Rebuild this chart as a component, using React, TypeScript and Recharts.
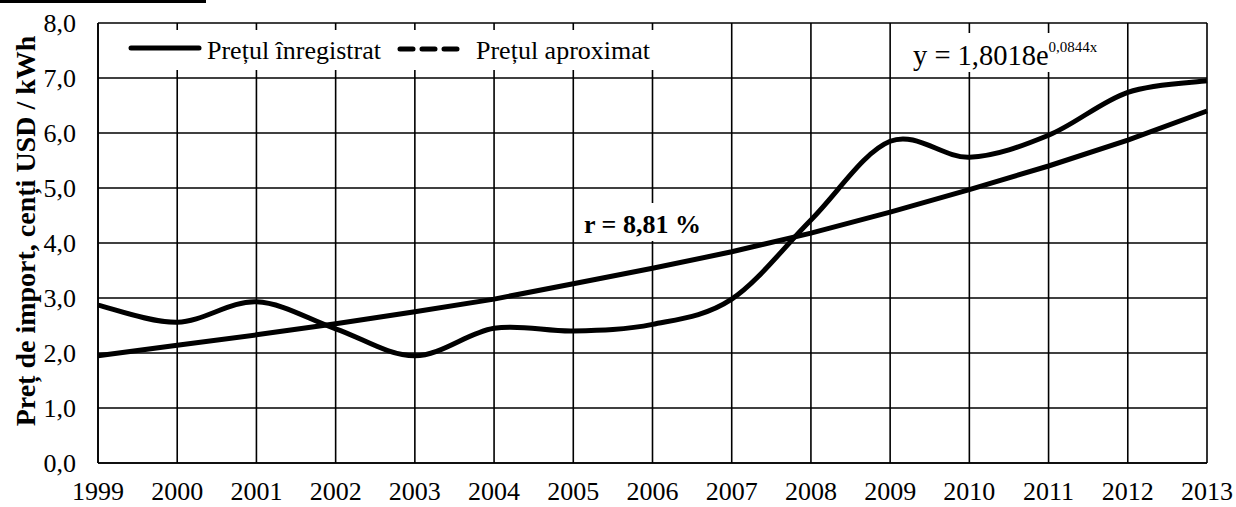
import React from 'react';
import { LineChart, Line, XAxis, YAxis, CartesianGrid } from 'recharts';

// ani si valori
const years = ['1999', '2000', '2001', '2002', '2003', '2004', '2005', '2006', '2007', '2008', '2009', '2010', '2011', '2012', '2013'];
const pretInregistrat = [2.87, 2.56, 2.93, 2.44, 1.95, 2.45, 2.4, 2.52, 2.98, 4.42, 5.85, 5.56, 5.96, 6.74, 6.95];
const pretAproximat = [1.95, 2.14, 2.33, 2.53, 2.75, 2.98, 3.26, 3.54, 3.84, 4.18, 4.56, 4.97, 5.4, 5.87, 6.4];
const yTicks = [0, 1, 2, 3, 4, 5, 6, 7, 8];

const FONT = '"Liberation Serif", "Times New Roman", serif';

const data = years.map((y, i) => ({ year: y, rec: pretInregistrat[i], aprox: pretAproximat[i] }));

// curba netezita gen Excel (Catmull-Rom -> Bezier)
const excelSmooth = (context: any) => {
    let pts: number[][] = [];
    return {
        areaStart() {},
        areaEnd() {},
        lineStart() { pts = []; },
        point(x: number, y: number) { pts.push([+x, +y]); },
        lineEnd() {
            if (!pts.length) return;
            context.moveTo(pts[0][0], pts[0][1]);
            for (let i = 0; i < pts.length - 1; i++) {
                const p0 = pts[i - 1] || pts[i];
                const p1 = pts[i];
                const p2 = pts[i + 1];
                const p3 = pts[i + 2] || pts[i + 1];
                context.bezierCurveTo(
                    p1[0] + (p2[0] - p0[0]) / 6, p1[1] + (p2[1] - p0[1]) / 6,
                    p2[0] - (p3[0] - p1[0]) / 6, p2[1] - (p3[1] - p1[1]) / 6,
                    p2[0], p2[1]
                );
            }
        },
    };
};

const fmt = (v: number) => v.toFixed(1).replace('.', ',');

// eticheta axei Y, aliniata la dreapta la 22px de chenar
const YTick = ({ y, payload }: any) => (
    <text x={76} y={y} dy={9} textAnchor="end" fontSize={26} fontFamily={FONT} fill="#000">
        {fmt(payload.value)}
    </text>
);

export default function App() {
    return (
        <div style={{ position: 'absolute', left: 0, top: 0, width: 1236, height: 507, background: '#fff' }}>
            <LineChart width={1236} height={507} data={data} margin={{ top: 23, right: 29, bottom: 14, left: 0 }}>
                <CartesianGrid stroke="#000" strokeWidth={1.6} />
                <XAxis
                    dataKey="year"
                    interval={0}
                    height={30}
                    axisLine={{ stroke: '#000', strokeWidth: 1.6 }}
                    tickLine={false}
                    tickSize={0}
                    tickMargin={19}
                    tick={{ fontSize: 26, fontFamily: FONT, fill: '#000' }}
                />
                <YAxis
                    domain={[0, 8]}
                    ticks={yTicks}
                    width={98}
                    axisLine={{ stroke: '#000', strokeWidth: 1.6 }}
                    tickLine={false}
                    tickSize={0}
                    tick={<YTick />}
                />
                <Line dataKey="aprox" type="linear" stroke="#000" strokeWidth={5} dot={false} isAnimationActive={false} />
                <Line dataKey="rec" type={excelSmooth as any} stroke="#000" strokeWidth={5} dot={false} isAnimationActive={false} />
            </LineChart>

            {/* adnotari: legenda, ecuatia, r, titlul axei */}
            <svg width={1236} height={507} style={{ position: 'absolute', left: 0, top: 0, pointerEvents: 'none' }} fontFamily={FONT}>
                <rect x={0} y={0} width={206} height={3} fill="#000" />

                <rect x={112} y={30} width={556} height={40} fill="#fff" />
                <line x1={131} y1={48} x2={199} y2={48} stroke="#000" strokeWidth={5} strokeLinecap="round" />
                <text x={207} y={59} fontSize={26} fill="#000">Prețul înregistrat</text>
                <line x1={400} y1={49} x2={457} y2={49} stroke="#000" strokeWidth={5} strokeLinecap="round" strokeDasharray="13 9" />
                <text x={476} y={59} fontSize={26} fill="#000">Prețul aproximat</text>

                <rect x={900} y={33} width={218} height={39} fill="#fff" />
                <text x={913} y={65} fontSize={28.5} fill="#000">
                    y = 1,8018e<tspan fontSize={15} dy={-13}>0,0844x</tspan>
                </text>

                <rect x={576} y={203} width={137} height={38} fill="#fff" />
                <text x={584} y={233} fontSize={26} fontWeight="bold" fill="#000">r = 8,81 %</text>

                <text transform="translate(35,231) rotate(-90)" textAnchor="middle" fontSize={28} fontWeight="bold" fill="#000">
                    Preț de import,  cenți USD / kWh
                </text>
            </svg>
        </div>
    );
}
